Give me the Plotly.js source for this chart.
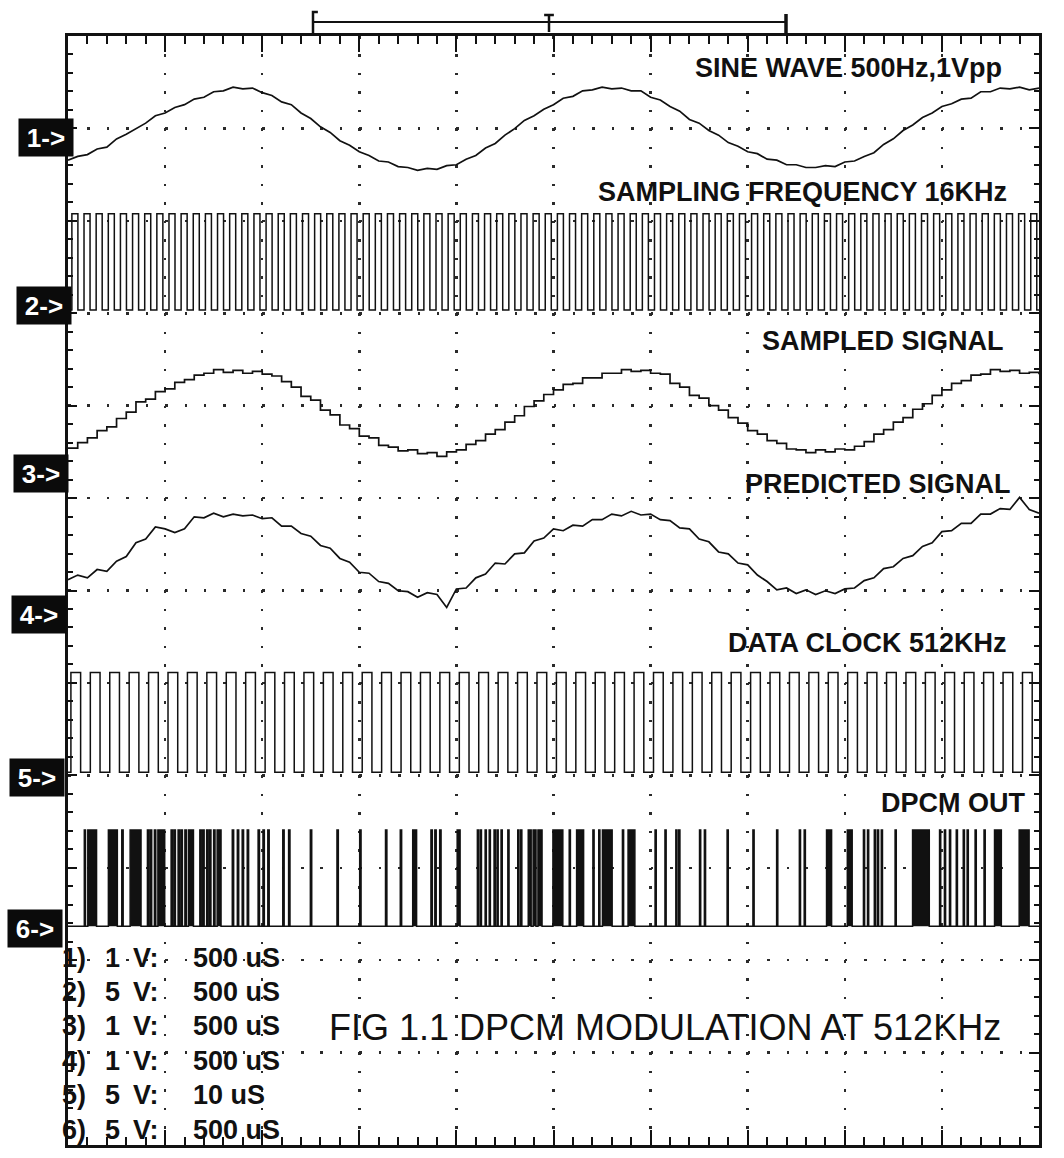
<!DOCTYPE html>
<html><head><meta charset="utf-8">
<script src="https://cdn.plot.ly/plotly-3.0.1.min.js"></script>
<style>html,body{margin:0;padding:0;background:#fff}#chart{width:1064px;height:1158px}</style>
</head><body><div id="chart"></div>
<script>
// ---------------- DATA ----------------
const channelNames = ['1->', '2->', '3->', '4->', '5->', '6->'];
const voltsPerDiv = [1, 5, 1, 1, 5, 5];
const timePerDivUs = [500, 500, 500, 500, 10, 500];
const timePerDivLabel = ['500 uS', '500 uS', '500 uS', '500 uS', '10 uS', '500 uS'];
const traceTitles = ['SINE WAVE 500Hz,1Vpp', 'SAMPLING FREQUENCY 16KHz', 'SAMPLED SIGNAL',
                     'PREDICTED SIGNAL', 'DATA CLOCK 512KHz', 'DPCM OUT'];
const captionText = 'FIG 1.1 DPCM MODULATION AT 512KHz';

// sample instants (µs) for channels 1, 3, 4
const sampleTimeUs = [0,50,100,150,200,250,300,350,400,450,500,550,600,650,700,750,800,850,900,950,
  1000,1050,1100,1150,1200,1250,1300,1350,1400,1450,1500,1550,1600,1650,1700,1750,1800,1850,1900,1950,
  2000,2050,2100,2150,2200,2250,2300,2350,2400,2450,2500,2550,2600,2650,2700,2750,2800,2850,2900,2950,
  3000,3050,3100,3150,3200,3250,3300,3350,3400,3450,3500,3550,3600,3650,3700,3750,3800,3850,3900,3950,
  4000,4050,4100,4150,4200,4250,4300,4350,4400,4450,4500,4550,4600,4650,4700,4750,4800,4850,4900,4950,5000];

// channel 1 : sine wave (V)
const sineWaveV = [-0.25,-0.21,-0.19,-0.13,-0.11,-0.02,0.03,0.09,0.15,0.23,
  0.26,0.32,0.35,0.41,0.43,0.49,0.50,0.54,0.52,0.53,
  0.48,0.45,0.38,0.35,0.26,0.20,0.11,0.05,-0.04,-0.09,
  -0.16,-0.20,-0.26,-0.27,-0.32,-0.33,-0.36,-0.34,-0.35,-0.31,
  -0.30,-0.24,-0.20,-0.12,-0.07,0.02,0.09,0.18,0.23,0.30,
  0.35,0.42,0.44,0.50,0.51,0.54,0.52,0.53,0.50,0.50,
  0.43,0.40,0.33,0.28,0.19,0.15,0.07,0.02,-0.06,-0.10,
  -0.16,-0.18,-0.24,-0.25,-0.30,-0.30,-0.33,-0.33,-0.31,-0.32,
  -0.27,-0.26,-0.21,-0.17,-0.08,-0.02,0.07,0.13,0.21,0.26,
  0.33,0.36,0.41,0.42,0.49,0.49,0.53,0.52,0.54,0.51,0.53];

// channel 3 : sampled signal (V)
const sampledSignalV = [0.27,0.33,0.38,0.46,0.50,0.59,0.66,0.77,0.80,0.88,
  0.91,0.98,1.01,1.06,1.08,1.12,1.09,1.11,1.08,1.10,
  1.07,1.05,0.99,0.93,0.83,0.79,0.68,0.63,0.52,0.48,
  0.40,0.38,0.30,0.28,0.24,0.25,0.21,0.22,0.18,0.23,
  0.25,0.31,0.35,0.42,0.47,0.55,0.62,0.72,0.78,0.85,
  0.90,0.96,0.97,1.03,1.03,1.08,1.08,1.12,1.10,1.11,
  1.08,1.07,0.97,0.93,0.84,0.81,0.73,0.68,0.60,0.54,
  0.46,0.42,0.35,0.32,0.26,0.25,0.22,0.25,0.23,0.26,
  0.25,0.29,0.34,0.42,0.47,0.55,0.60,0.69,0.75,0.84,
  0.90,0.97,1.00,1.06,1.07,1.12,1.10,1.11,1.08,1.09,1.07];

// channel 4 : predicted signal (V)
const predictedSignalV = [0.35,0.40,0.37,0.46,0.44,0.55,0.60,0.75,0.79,0.92,
  0.90,0.86,0.90,1.03,1.02,1.07,1.03,1.06,1.04,1.05,
  1.01,1.02,0.93,0.93,0.85,0.82,0.72,0.69,0.58,0.54,
  0.43,0.42,0.33,0.31,0.23,0.22,0.16,0.21,0.19,0.05,
  0.25,0.26,0.37,0.41,0.53,0.52,0.63,0.64,0.77,0.80,
  0.90,0.88,0.94,0.93,1.00,1.00,1.06,1.04,1.09,1.05,
  1.06,1.00,0.99,0.91,0.90,0.79,0.76,0.65,0.63,0.53,
  0.51,0.40,0.33,0.24,0.26,0.20,0.24,0.19,0.23,0.20,
  0.25,0.26,0.34,0.37,0.47,0.49,0.58,0.61,0.71,0.75,
  0.87,0.88,0.96,0.96,1.06,1.06,1.12,1.11,1.24,1.11,1.07];

// channel 2 : 16 kHz sampling clock, rising edges (µs)
const samplingClockRiseUs = [20,82.5,145,207.5,270,332.5,395,457.5,520,582.5,
  645,707.5,770,832.5,895,957.5,1020,1082.5,1145,1207.5,
  1270,1332.5,1395,1457.5,1520,1582.5,1645,1707.5,1770,1832.5,
  1895,1957.5,2020,2082.5,2145,2207.5,2270,2332.5,2395,2457.5,
  2520,2582.5,2645,2707.5,2770,2832.5,2895,2957.5,3020,3082.5,
  3145,3207.5,3270,3332.5,3395,3457.5,3520,3582.5,3645,3707.5,
  3770,3832.5,3895,3957.5,4020,4082.5,4145,4207.5,4270,4332.5,
  4395,4457.5,4520,4582.5,4645,4707.5,4770,4832.5,4895,4957.5];
const samplingClockHighUs = 31;
const samplingClockLevelsV = [-0.1, 5.1];

// channel 5 : data clock, rising edges (µs)
const dataClockRiseUs = [0.3,2.3,4.3,6.3,8.3,10.3,12.3,14.3,16.3,18.3,
  20.3,22.3,24.3,26.3,28.3,30.3,32.3,34.3,36.3,38.3,
  40.3,42.3,44.3,46.3,48.3,50.3,52.3,54.3,56.3,58.3,
  60.3,62.3,64.3,66.3,68.3,70.3,72.3,74.3,76.3,78.3,
  80.3,82.3,84.3,86.3,88.3,90.3,92.3,94.3,96.3,98.3];
const dataClockHighUs = 1.0;
const dataClockLevelsV = [0.15, 5.55];

// channel 6 : DPCM output pulses [start, end] (µs)
const dpcmPulsesUs = [[84,90],[102,147],[208,254],[277,284],[320,376],[409,416],[424,431],[445,452],[463,498],
  [531,538],[546,553],[567,574],[582,589],[602,609],[620,646],[679,686],[694,701],[714,721],[729,736],[750,757],
  [768,788],[846,853],[872,879],[897,904],[923,930],[979,986],[1004,1011],[1029,1036],[1106,1113],[1136,1143],
  [1248,1255],[1385,1392],[1502,1509],[1635,1642],[1711,1718],[1775,1795],[1869,1876],[1889,1896],[1914,1921],
  [2004,2019],[2108,2114],[2123,2129],[2148,2154],[2169,2175],[2194,2200],[2209,2215],[2230,2236],[2265,2271],
  [2316,2322],[2331,2337],[2370,2385],[2395,2410],[2420,2441],[2497,2548],[2581,2587],[2619,2655],[2703,2709],
  [2733,2739],[2752,2802],[2855,2861],[2884,2919],[3023,3029],[3074,3080],[3130,3136],[3145,3151],[3252,3258],
  [3277,3283],[3394,3400],[3527,3533],[3649,3655],[3766,3772],[3791,3797],[3906,3932],[4013,4038],[4096,4102],
  [4117,4123],[4152,4158],[4168,4174],[4188,4194],[4259,4265],[4349,4435],[4488,4494],[4513,4519],[4539,4545],
  [4574,4580],[4610,4616],[4630,4636],[4671,4677],[4717,4723],[4771,4806],[4898,4949]];
const dpcmLevelsV = [0.1, 5.3];

// ---------------- LAYOUT / STYLE ----------------
const W = 1064, H = 1158;
const PL = 68, PR = 1039, PT = 36, PB = 1145;       // plot area in px
const NX = 10, NY = 12;                               // graticule divisions
const groundDiv = [10.907, 9.056, 7.271, 5.767, 4.003, 2.348]; // channel ground markers (div)
const markerXpx = [46, 44, 41, 39, 37, 35];
const markerYdiv = [10.907, 9.089, 7.271, 5.735, 3.982, 2.348];
const titleRightDiv = [9.64, 9.69, 9.66, 9.73, 9.69, 9.88];
const titleYDiv = [11.659, 10.312, 8.701, 7.152, 5.432, 3.701];
const INK = '#111';
const FONT = 'Liberation Sans, Arial, sans-serif';

const pxPerDivX = (PR - PL) / NX, pxPerDivY = (PB - PT) / NY;
const xDivOfPx = px => (px - PL) / pxPerDivX;
const yDivOfPx = py => (PB - py) / pxPerDivY;
const xPaperOfPx = px => (px - PL) / (PR - PL);

function scr(ch, tUs, v) { return [tUs / timePerDivUs[ch], groundDiv[ch] + v / voltsPerDiv[ch]]; }

function analogTrace(ch, vals, shape) {
  const x = [], y = [];
  sampleTimeUs.forEach((t, i) => { const p = scr(ch, t, vals[i]); x.push(p[0]); y.push(p[1]); });
  return {type: 'scatter', mode: 'lines', x, y, line: {color: INK, width: 1.7, shape: shape || 'linear'}, hoverinfo: 'skip'};
}
function pulseTrace(ch, pulses, levels, endUs, fill) {
  const x = [], y = [];
  const push = (t, v) => { const p = scr(ch, t, v); x.push(p[0]); y.push(p[1]); };
  push(0, levels[0]);
  pulses.forEach(([s, e]) => { push(s, levels[0]); push(s, levels[1]); push(e, levels[1]); push(e, levels[0]); });
  push(endUs, levels[0]);
  const tr = {type: 'scatter', mode: 'lines', x, y, line: {color: INK, width: 1.5}, hoverinfo: 'skip'};
  if (fill) { tr.fill = 'toself'; tr.fillcolor = INK; }
  return tr;
}

const traces = [
  analogTrace(0, sineWaveV),
  pulseTrace(1, samplingClockRiseUs.map(r => [r, r + samplingClockHighUs]), samplingClockLevelsV, NX * timePerDivUs[1]),
  analogTrace(2, sampledSignalV, 'hv'),
  analogTrace(3, predictedSignalV),
  pulseTrace(4, dataClockRiseUs.map(r => [r, r + dataClockHighUs]), dataClockLevelsV, NX * timePerDivUs[4]),
  pulseTrace(5, dpcmPulsesUs, dpcmLevelsV, NX * timePerDivUs[5], true),
  // empty trace so the mirrored tick axes (top / right) exist
  {type: 'scatter', mode: 'lines', x: [], y: [], xaxis: 'x2', yaxis: 'y2', hoverinfo: 'skip'}
];

const annotations = [];
channelNames.forEach((n, i) => {
  annotations.push({xref: 'paper', yref: 'y', x: xPaperOfPx(markerXpx[i]), y: markerYdiv[i],
    xanchor: 'center', yanchor: 'middle', showarrow: false, text: '<b>' + n.replace('>', '&gt;') + '</b>',
    font: {family: FONT, size: 26, color: '#fff'}, bgcolor: '#0b0b0b', width: 46, height: 29, borderpad: 4});
  annotations.push({xref: 'x', yref: 'y', x: titleRightDiv[i], y: titleYDiv[i], xanchor: 'right', yanchor: 'middle',
    showarrow: false, text: '<b>' + traceTitles[i] + '</b>', font: {family: FONT, size: 27, color: INK}});
});
// settings block (bottom left)
const rowPx = [958, 992, 1026, 1061, 1095, 1130];
const colPx = [60, 103, 131, 191];
channelNames.forEach((n, i) => {
  const cells = [n.charAt(0) + ')', String(voltsPerDiv[i]), 'V:', timePerDivLabel[i]];
  cells.forEach((c, j) => annotations.push({xref: 'paper', yref: 'y', x: xPaperOfPx(colPx[j]), y: yDivOfPx(rowPx[i]),
    xanchor: 'left', yanchor: 'middle', showarrow: false, text: '<b>' + c + '</b>',
    font: {family: FONT, size: 27, color: INK}}));
});
annotations.push({xref: 'x', yref: 'y', x: xDivOfPx(327), y: yDivOfPx(1027), xanchor: 'left', yanchor: 'middle',
  showarrow: false, text: captionText, font: {family: FONT, size: 36, color: INK}});

// trigger / memory-window bracket above the screen
const py = p => (PB - p) / (PB - PT);
const bx0 = xDivOfPx(313), bx1 = xDivOfPx(786), bt = xDivOfPx(549);
const shapes = [
  {type: 'line', xref: 'x', yref: 'paper', x0: bx0, x1: bx1, y0: py(22), y1: py(22), line: {color: INK, width: 2}},
  {type: 'path', xref: 'x', yref: 'paper', path: `M ${bx0 + 0.05} ${py(12)} L ${bx0} ${py(12)} L ${bx0} ${py(33)}`, line: {color: INK, width: 2.5}},
  {type: 'path', xref: 'x', yref: 'paper', path: `M ${bt - 0.05} ${py(15)} L ${bt + 0.05} ${py(15)} M ${bt} ${py(15)} L ${bt} ${py(32)}`, line: {color: INK, width: 2.5}},
  {type: 'path', xref: 'x', yref: 'paper', path: `M ${bx1} ${py(14)} L ${bx1} ${py(33)}`, line: {color: INK, width: 3.5}}
];

const gridDot = 2.5;
const axisCommon = {showticklabels: false, ticks: 'inside', tickcolor: INK, tickwidth: 2, showline: true,
  linecolor: INK, linewidth: 3, mirror: true, showgrid: true, gridcolor: '#2a2a2a', gridwidth: gridDot,
  zeroline: false, fixedrange: true, tick0: 0, dtick: 1};
const tickOnly = {showticklabels: false, ticks: 'inside', tickcolor: INK, tickwidth: 2, showline: false,
  showgrid: false, zeroline: false, fixedrange: true, tick0: 0, dtick: 1};
const layout = {
  width: W, height: H, margin: {l: PL, r: W - PR, t: PT, b: H - PB, pad: 0},
  paper_bgcolor: '#fff', plot_bgcolor: '#fff', showlegend: false,
  xaxis: Object.assign({}, axisCommon, {range: [0, NX], ticklen: 15,
    griddash: `${gridDot}px,${(pxPerDivY / 5 - gridDot).toFixed(2)}px`,
    minor: {dtick: 0.2, tick0: 0, ticks: 'inside', ticklen: 8, tickwidth: 2, tickcolor: INK, showgrid: false}}),
  yaxis: Object.assign({}, axisCommon, {range: [0, NY], ticklen: 9,
    griddash: `${gridDot}px,${(pxPerDivX / 5 - gridDot).toFixed(2)}px`,
    minor: {dtick: 0.2, tick0: 0, ticks: 'inside', ticklen: 5, tickwidth: 2, tickcolor: INK, showgrid: false}}),
  xaxis2: Object.assign({}, tickOnly, {overlaying: 'x', side: 'top', anchor: 'y2', range: [0, NX], ticklen: 16,
    minor: {dtick: 0.2, tick0: 0, ticks: 'inside', ticklen: 8, tickwidth: 2, tickcolor: INK, showgrid: false}}),
  yaxis2: Object.assign({}, tickOnly, {overlaying: 'y', side: 'right', anchor: 'x2', range: [0, NY], ticklen: 10,
    minor: {dtick: 0.2, tick0: 0, ticks: 'inside', ticklen: 5, tickwidth: 2, tickcolor: INK, showgrid: false}}),
  annotations, shapes
};
Plotly.newPlot('chart', traces, layout, {displayModeBar: false, staticPlot: true});
</script>
</body></html>
